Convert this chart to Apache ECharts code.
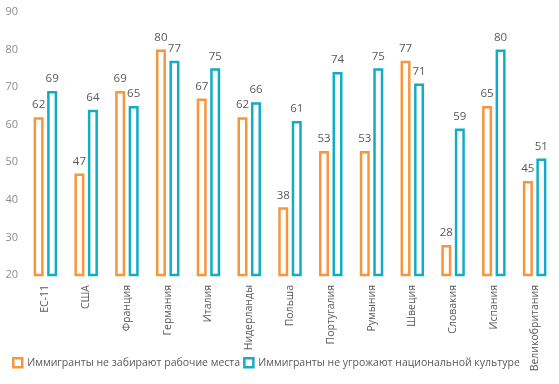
<!DOCTYPE html>
<html><head><meta charset="utf-8">
<script src="https://cdn.jsdelivr.net/npm/echarts@6/dist/echarts.min.js"></script>
<style>html,body{margin:0;padding:0;background:#fff}#c{width:559px;height:384px}</style>
</head><body><div id="c"></div>
<script>
const categories = ['ЕС-11','США','Франция','Германия','Италия','Нидерланды','Польша','Португалия','Румыния','Швеция','Словакия','Испания','Великобритания'];
const seriesNames = ['Иммигранты не забирают рабочие места','Иммигранты не угрожают национальной культуре'];
const jobs = [62,47,69,80,67,62,38,53,53,77,28,65,45];
const culture = [69,64,65,77,75,66,61,74,75,71,59,80,51];
const colors = ['#f7963d','#12adc5'];
const font = 'Open Sans';
const chart = echarts.init(document.getElementById('c'));
function mk(name, data, color){
  return {
    name, type:'bar', data, barWidth:10, barGap:'35%',
    itemStyle:{color:'#fff', borderColor:color, borderWidth:2.5},
    label:{show:true, position:'top', distance:6, color:'#595959', fontSize:11.5, fontFamily:font}
  };
}
chart.setOption({
  animation:false,
  grid:{left:25, right:4, top:12, bottom:109, containLabel:false},
  legend:{
    top:357, left:12, padding:[0,0,0,0], itemWidth:9, itemHeight:9, itemGap:3,
    textStyle:{color:'#595959', fontSize:10.5, fontFamily:font},
    data:seriesNames.map((n,i)=>({name:n, icon:'rect', itemStyle:{color:'#fff', borderColor:colors[i], borderWidth:2.5}}))
  },
  xAxis:{type:'category', data:categories,
    axisLine:{show:false}, axisTick:{show:false},
    axisLabel:{rotate:90, color:'#595959', fontSize:10.5, fontFamily:font, margin:10, interval:0}},
  yAxis:{type:'value', min:20, max:90, interval:10,
    splitLine:{show:false}, axisLine:{show:false}, axisTick:{show:false},
    axisLabel:{color:'#8c8c8c', fontSize:11, fontFamily:font, margin:7}},
  series:[mk(seriesNames[0], jobs, colors[0]), mk(seriesNames[1], culture, colors[1])]
});
</script></body></html>
